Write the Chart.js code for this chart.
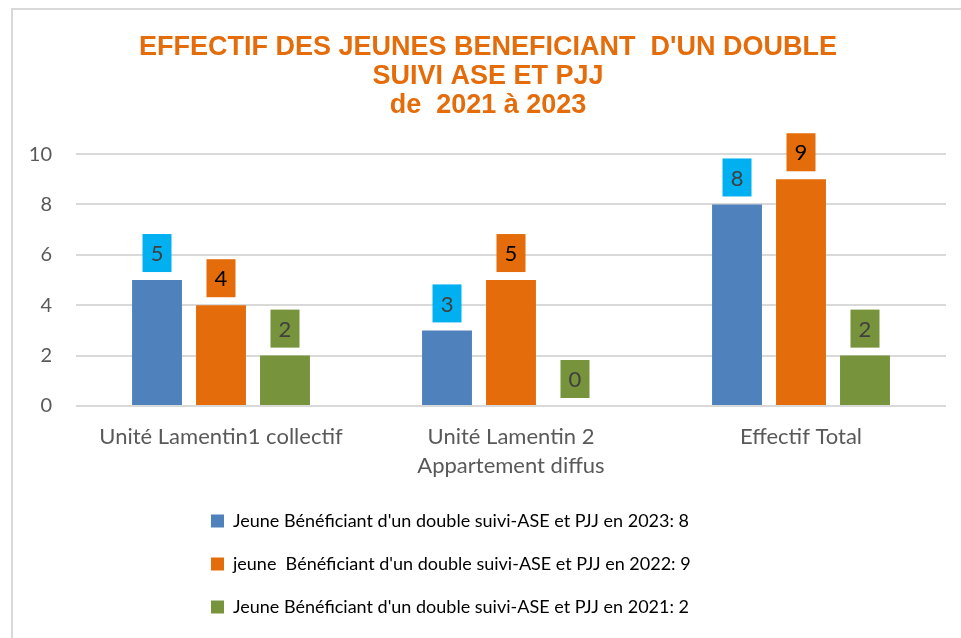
<!DOCTYPE html>
<html>
<head>
<meta charset="utf-8">
<script src="https://cdn.jsdelivr.net/npm/chart.js@4"></script>
<style>
  body { margin: 0; background: #fff; }
  #frame {
    position: absolute; left: 11px; top: 8px;
    width: 950px; height: 630px;
    border-top: 2px solid #d9d9d9; border-left: 2px solid #d9d9d9;
  }
</style>
</head>
<body>
<div id="frame"><canvas id="myChart" width="948" height="628"></canvas></div>
<script>
// Data
const categories = [
  'Unité Lamentin1 collectif',
  ['Unité Lamentin 2', 'Appartement diffus'],
  'Effectif Total'
];
const seriesNames = [
  "Jeune Bénéficiant d'un double suivi-ASE et PJJ en 2023: 8",
  "jeune  Bénéficiant d'un double suivi-ASE et PJJ en 2022: 9",
  "Jeune Bénéficiant d'un double suivi-ASE et PJJ en 2021: 2"
];
const values2023 = [5, 3, 8];
const values2022 = [4, 5, 9];
const values2021 = [2, 0, 2];
const yTicks = [0, 2, 4, 6, 8, 10];

const barColors = ['#4F81BD', '#E46C0A', '#77933C'];
const labelBoxColors = ['#00B0F0', '#E46C0A', '#77933C'];
const labelTextColors = ['#404040', '#000000', '#404040'];

// draws the value boxes above the bars
const valueBoxes = {
  id: 'valueBoxes',
  afterDatasetsDraw(chart) {
    const ctx = chart.ctx;
    ctx.save();
    ctx.font = '22px Lato';
    ctx.textAlign = 'center';
    ctx.textBaseline = 'middle';
    chart.data.datasets.forEach((ds, i) => {
      chart.getDatasetMeta(i).data.forEach((bar, j) => {
        const w = 29, h = 38;
        const bottom = bar.y - 8;
        ctx.fillStyle = labelBoxColors[i];
        ctx.fillRect(bar.x - w / 2, bottom - h, w, h);
        ctx.fillStyle = labelTextColors[i];
        ctx.fillText(String(ds.data[j]), bar.x, bottom - h / 2 + 1);
      });
    });
    ctx.restore();
  }
};

// legend rows start at the same x, a bit left of centre
const legendLeft = {
  id: 'legendLeft',
  afterLayout(chart) {
    chart.legend.left = 173;
  }
};

function createChart() {
  const ctx = document.getElementById('myChart').getContext('2d');
  new Chart(ctx, {
    type: 'bar',
    data: {
      labels: categories,
      datasets: [
        { label: seriesNames[0], data: values2023, backgroundColor: barColors[0] },
        { label: seriesNames[1], data: values2022, backgroundColor: barColors[1] },
        { label: seriesNames[2], data: values2021, backgroundColor: barColors[2] }
      ]
    },
    options: {
      responsive: false,
      animation: false,
      categoryPercentage: 0.662,
      barPercentage: 0.78,
      layout: { padding: { left: 17, right: 15, top: 0, bottom: 12 } },
      plugins: {
        title: {
          display: true,
          text: ['EFFECTIF DES JEUNES BENEFICIANT  D\'UN DOUBLE', 'SUIVI ASE ET PJJ', 'de  2021 à 2023'],
          color: '#E46C0A',
          font: { family: 'Liberation Sans', size: 27, weight: 'bold', lineHeight: 1.075 },
          padding: { top: 23, bottom: 34 }
        },
        legend: {
          position: 'bottom',
          align: 'start',
          labels: {
            boxWidth: 13,
            boxHeight: 13,
            padding: 25,
            color: '#000',
            font: { family: 'Lato', size: 18 }
          }
        },
        tooltip: { enabled: false }
      },
      scales: {
        x: {
          grid: { display: false, drawTicks: false },
          border: { display: false },
          ticks: {
            color: '#595959',
            font: { family: 'Lato', size: 22, lineHeight: 1.32 },
            padding: 16
          },
          afterFit: scale => {
            scale.paddingLeft = 0;
            scale.paddingRight = 0;
            scale.height = 81;
          }
        },
        y: {
          min: 0,
          max: 10,
          afterBuildTicks: axis => { axis.ticks = yTicks.map(v => ({ value: v })); },
          grid: { color: '#d9d9d9', lineWidth: 2, drawTicks: false },
          border: { display: false },
          ticks: {
            color: '#595959',
            font: { family: 'Lato', size: 20 },
            padding: 24
          },
          afterFit: scale => { scale.width = 46; }
        }
      }
    },
    plugins: [valueBoxes, legendLeft]
  });
}

createChart();
</script>
</body>
</html>
